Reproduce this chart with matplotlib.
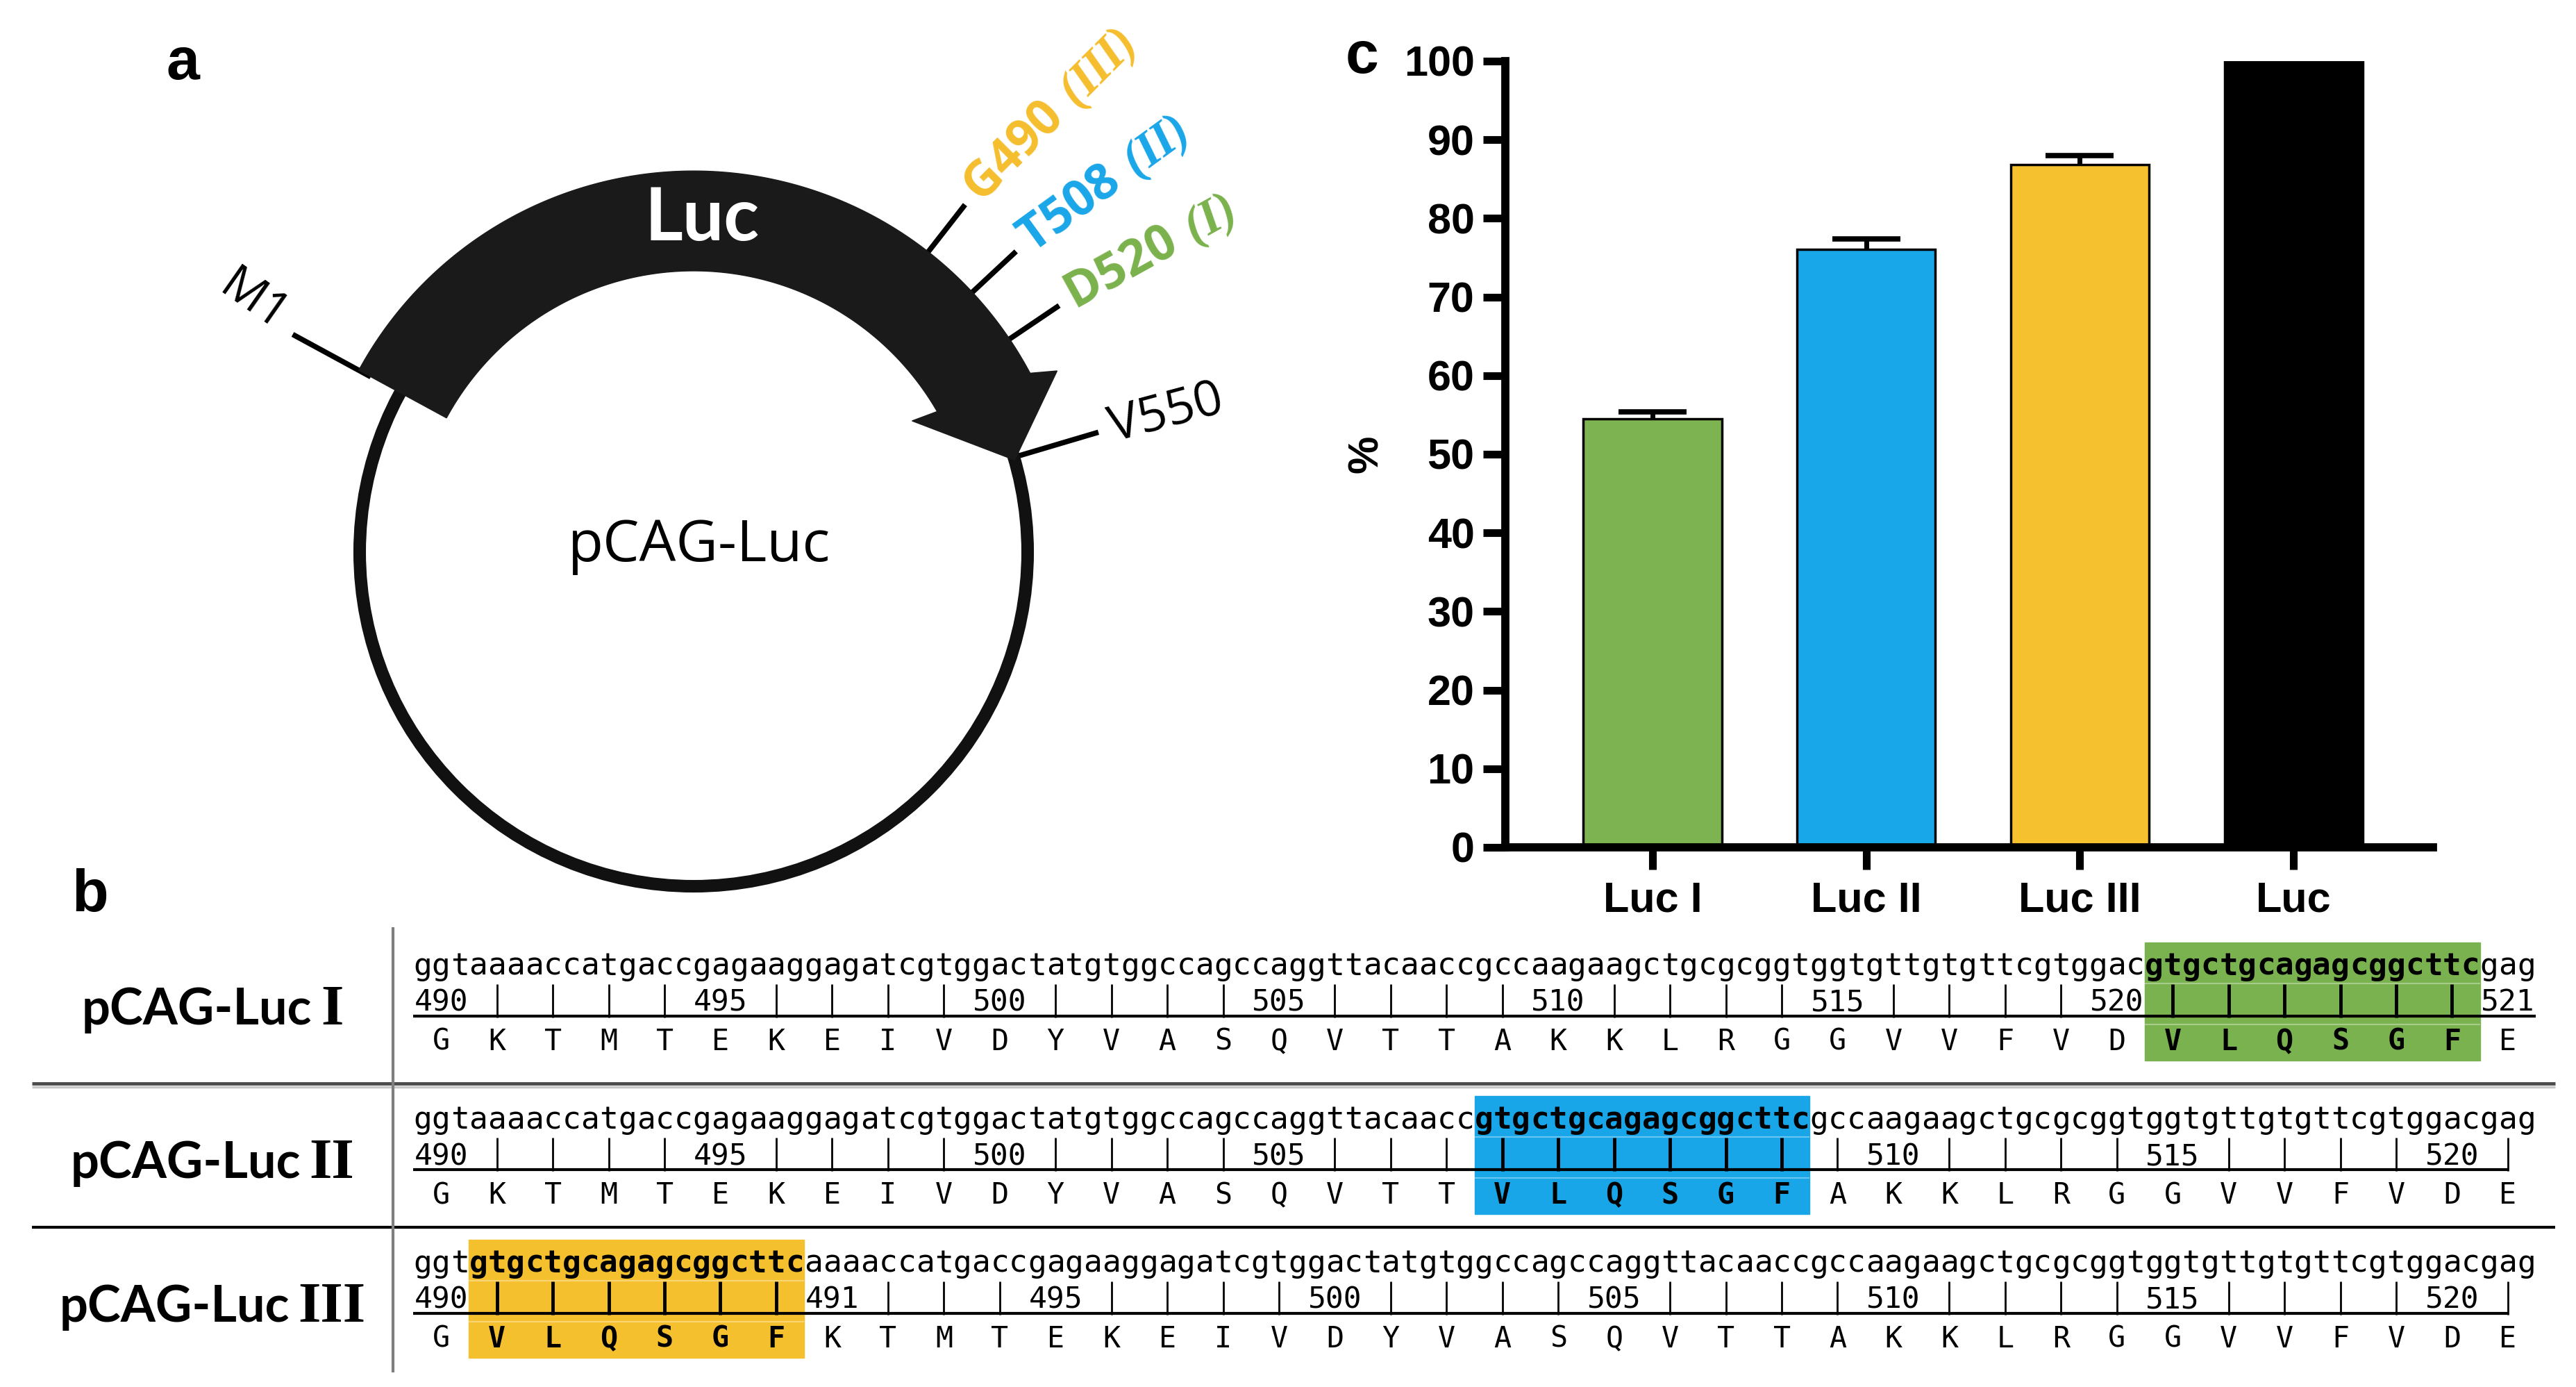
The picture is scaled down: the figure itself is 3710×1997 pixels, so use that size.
import numpy as np
import matplotlib
matplotlib.use("Agg")
import matplotlib.pyplot as plt
from matplotlib.patches import Polygon, Circle, Rectangle

# ---- panel c: relative luciferase activity ----
groups = ["Luc I", "Luc II", "Luc III", "Luc"]
activity = [54.5, 76.1, 86.8, 100.0]
activity_err = [0.9, 1.3, 1.2, 0.0]
bar_colors = ["#7db350", "#18a7e9", "#f5c12e", "#000000"]
y_ticks = list(range(0, 101, 10))

# ---- panel a: schematic plasmid map (angles in degrees) ----
site_names = ["M1", "G490", "T508", "D520", "V550"]
site_tags = ["", "III", "II", "I", ""]
site_angles = [151.5, 52.0, 43.0, 34.0, 16.5]
site_colors = ["black", "#f5be2e", "#19a6e8", "#7ab24c", "black"]

# ---- panel b: insertion sites of VLQSGF ----
construct_names = ["pCAG-Luc", "pCAG-Luc", "pCAG-Luc"]
construct_tags = ["I", "II", "III"]
dna_rows = [
    "ggtaaaaccatgaccgagaaggagatcgtggactatgtggccagccaggttacaaccgccaagaagctgcgcggtggtgttgtgttcgtggacgtgctgcagagcggcttcgag",
    "ggtaaaaccatgaccgagaaggagatcgtggactatgtggccagccaggttacaaccgtgctgcagagcggcttcgccaagaagctgcgcggtggtgttgtgttcgtggacgag",
    "ggtgtgctgcagagcggcttcaaaaccatgaccgagaaggagatcgtggactatgtggccagccaggttacaaccgccaagaagctgcgcggtggtgttgtgttcgtggacgag",
]
aa_rows = [
    "GKTMTEKEIVDYVASQVTTAKKLRGGVVFVDVLQSGFE",
    "GKTMTEKEIVDYVASQVTTVLQSGFAKKLRGGVVFVDE",
    "GVLQSGFKTMTEKEIVDYVASQVTTAKKLRGGVVFVDE",
]
insert_start = [31, 19, 1]
insert_len = 6
insert_colors = ["#7ab24f", "#18a6e8", "#f5c02e"]
number_marks = [
    {0: "490", 5: "495", 10: "500", 15: "505", 20: "510", 25: "515", 30: "520", 37: "521"},
    {0: "490", 5: "495", 10: "500", 15: "505", 26: "510", 31: "515", 36: "520"},
    {0: "490", 7: "491", 11: "495", 16: "500", 21: "505", 26: "510", 31: "515", 36: "520"},
]

W, H = 3710, 1997
plt.rcParams["mathtext.fontset"] = "custom"
plt.rcParams["mathtext.bf"] = "Open Sans:bold"
plt.rcParams["mathtext.bfit"] = "Liberation Serif:bold:italic"

fig = plt.figure(figsize=(W / 100, H / 100), dpi=100)

# ================= panel a =================
ax_a = fig.add_axes([0, 1 - 1330 / H, 1900 / W, 1330 / H])
px = 481.0  # pixels per unit radius
ax_a.set_xlim(-999 / px, (1900 - 999) / px)
ax_a.set_ylim((795 - 1330) / px, 795 / px)
ax_a.axis("off")


def polar(r, a):
    t = np.radians(a)
    return np.array([r * np.cos(t), r * np.sin(t)])


def arc(r, a0, a1, n=200):
    t = np.radians(np.linspace(a0, a1, n))
    return np.column_stack([r * np.cos(t), r * np.sin(t)])


ax_a.add_patch(Circle((0, 0), 1.0, fill=False, lw=13, ec="#111111", zorder=2))

r_in, r_out = 0.842, 1.141
band = np.vstack([
    arc(r_out, site_angles[0], 28),
    [polar(1.216, 26.5), polar(1.0, 16.0), polar(0.763, 31.0)],
    arc(r_in, 30, site_angles[0]),
])
ax_a.add_patch(Polygon(band, closed=True, color="#1a1a1a", zorder=3))
ax_a.text(0.025, 0.995, "Luc", color="white", fontsize=76, fontweight="bold",
          family="Lato", ha="center", va="center", zorder=4)
ax_a.text(0.017, 0.017, "pCAG-Luc", fontsize=60, family="Open Sans",
          ha="center", va="center")

for name, tag, ang, col in zip(site_names, site_tags, site_angles, site_colors):
    r0 = 1.0 if name == "V550" else 1.1
    r1 = {"M1": 1.366, "V550": 1.264}.get(name, 1.32)
    p0, p1 = polar(r0, ang), polar(r1, ang)
    ax_a.plot([p0[0], p1[0]], [p0[1], p1[1]], color="black", lw=5.5,
              solid_capstyle="butt", zorder=1)
    if name == "M1":
        p = polar(1.518, 150.4)
        ax_a.text(p[0], p[1], name, fontsize=50, family="Open Sans", rotation=-35,
                  ha="center", va="center", rotation_mode="anchor")
    elif name == "V550":
        p = polar(1.30, ang)
        ax_a.text(p[0], p[1], name, fontsize=52, family="Open Sans", rotation=15,
                  ha="left", va="center", rotation_mode="anchor")
    else:
        p = polar(1.355, ang)
        rot = {"G490": 45, "T508": 36, "D520": 29}[name]
        label = r"$\mathbf{%s}\ \mathbfit{(%s)}$" % (name, tag)
        ax_a.text(p[0], p[1], label, fontsize=51, color=col, rotation=rot,
                  ha="left", va="center", rotation_mode="anchor")

# ================= panel b =================
ax_b = fig.add_axes([0, 0, 1, 697 / H])
cw = 80.45  # pixels per codon
x0 = 595
ax_b.set_xlim(-x0 / cw, (W - x0) / cw)
ax_b.set_ylim(697, 0)
ax_b.axis("off")

row_y = [89, 310, 517]
mono = "DejaVu Sans Mono"
labels = []
for i in range(3):
    y = row_y[i]
    dna, aa, marks = dna_rows[i], aa_rows[i], number_marks[i]
    s = insert_start[i]
    ax_b.add_patch(Rectangle((s, y - 32), insert_len, 170, color=insert_colors[i], zorder=0))
    ax_b.hlines([y + 27, y + 86], s, s + insert_len, colors="white", lw=1.5, alpha=0.35, zorder=0.5)

    for k, ch in enumerate(dna):
        bold = s * 3 <= k < (s + insert_len) * 3
        ax_b.text((k + 0.5) / 3, y + 15, ch, family=mono, fontsize=32,
                  fontweight="bold" if bold else "normal", ha="center", va="baseline")
    n = len(aa)
    for k, ch in enumerate(aa):
        bold = s <= k < s + insert_len
        ax_b.text(k + 0.5, y + 123, ch, family=mono, fontsize=30,
                  fontweight="bold" if bold else "normal", ha="center", va="baseline")
        if k in marks:
            ax_b.text(k + 0.5, y + 67, marks[k], family=mono, fontsize=31,
                      ha="center", va="baseline")
        else:
            ax_b.vlines(k + 0.5, y + 28, y + 76, colors="black",
                        lw=3.5 if bold else 2.0)
    end = n if (n - 1) in marks else n - 0.5
    ax_b.hlines(y + 74, 0, end, colors="black", lw=3)

    t1 = ax_b.text(0, y + 86, construct_names[i], family="Lato", fontsize=52,
                   fontweight="bold", ha="left", va="baseline")
    t2 = ax_b.annotate(construct_tags[i], xy=(1, y + 86), xycoords=(t1, "data"),
                       xytext=(9, 0), textcoords="offset points", family="Liberation Serif",
                       fontsize=60, fontweight="bold", ha="left", va="baseline")
    labels.append((t1, t2))

ax_b.hlines(260, (46 - x0) / cw, (3680 - x0) / cw, colors="#4d4d4d", lw=3.5)
ax_b.hlines(265, (46 - x0) / cw, (3680 - x0) / cw, colors="#c8c8c8", lw=2.5)
ax_b.hlines(467, (46 - x0) / cw, (3680 - x0) / cw, colors="black", lw=3)
ax_b.vlines((566 - x0) / cw, 35, 676, colors="#7f7f7f", lw=3)

# center each row label in its cell
fig.canvas.draw()
rend = fig.canvas.get_renderer()
for t1, t2 in labels:
    b1, b2 = t1.get_window_extent(rend), t2.get_window_extent(rend)
    width = b2.x1 - b1.x0
    t1.set_x((306 - width / 2 - x0) / cw)

# ================= panel c =================
ax_c = fig.add_axes([2168 / W, 1 - 1220 / H, (3504 - 2168) / W, (1220 - 88) / H])
narrow = ["Liberation Sans Narrow", "Liberation Sans"]
x = np.arange(len(groups))
ax_c.bar(x, activity, width=0.647, color=bar_colors, edgecolor="black", linewidth=2.5, zorder=2)

# only bars with a non-zero error get an upper error bar
err = np.array(activity_err)
has_err = err > 0
eb = ax_c.errorbar(x[has_err], np.array(activity)[has_err],
                   yerr=[np.zeros(has_err.sum()), err[has_err]], fmt="none",
                   ecolor="black", elinewidth=5, capsize=35, capthick=5.5, zorder=3, clip_on=False)
eb[1][0].set_visible(False)

ax_c.set_xlim(-0.689, 3.653)
ax_c.set_ylim(0, 100)
ax_c.set_yticks(y_ticks)
ax_c.set_yticklabels([str(v) for v in y_ticks], fontsize=44, fontweight="bold", family=narrow)
ax_c.set_xticks(x)
ax_c.set_xticklabels(groups, fontsize=44, fontweight="bold", family=narrow)
ax_c.tick_params(axis="both", width=8, length=23)
ax_c.tick_params(axis="y", pad=9)
ax_c.tick_params(axis="x", pad=12)
for side in ["top", "right"]:
    ax_c.spines[side].set_visible(False)
for side in ["left", "bottom"]:
    ax_c.spines[side].set_linewidth(8.5)
    ax_c.spines[side].set_capstyle("projecting")
ax_c.set_ylabel("%", fontsize=44, fontweight="bold", family=narrow)
ax_c.yaxis.set_label_coords(-0.149, 0.5)
ax_c.yaxis.label.set_va("center")

# panel letters
for letter, (lx, ly) in zip("abc", [(263, 92), (130, 1290), (1962, 83)]):
    fig.text(lx / W, 1 - ly / H, letter, fontsize=62, fontweight="bold",
             family="Liberation Sans", ha="center", va="center")

fig.savefig("out.png", dpi=100)
